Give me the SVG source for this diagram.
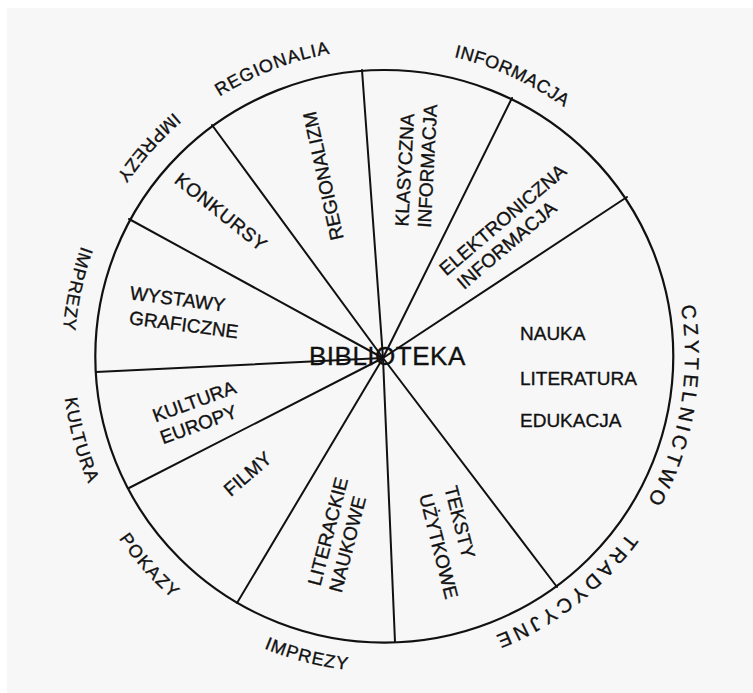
<svg xmlns="http://www.w3.org/2000/svg" width="753" height="693" viewBox="0 0 753 693">
<defs>
<style>
text{font-family:"Liberation Sans",Arial,sans-serif;fill:#111;stroke:#111;stroke-width:0.35px;}
.in{font-size:19px;}
.out{font-size:18px;letter-spacing:1px;}
.sp{font-size:20px;letter-spacing:4px;}
.hub{font-size:26px;letter-spacing:0.5px;}
.spoke{stroke:#111;stroke-width:2;fill:none;stroke-linecap:round;}
.rim{stroke:#111;stroke-width:2.2;fill:none;}
</style>
<path id="cw307" d="M 77,356 A 307 307 0 1 1 691,356 A 307 307 0 1 1 77,356"/>
<path id="cw301" d="M 83,356 A 301 301 0 1 1 685,356 A 301 301 0 1 1 83,356"/>
<path id="ccw322" d="M 384,34 A 322 322 0 1 0 384,678 A 322 322 0 1 0 384,34"/>
<path id="ccw316" d="M 384,40 A 316 316 0 1 0 384,672 A 316 316 0 1 0 384,40"/>
</defs>
<rect width="753" height="693" fill="#ffffff"/>
<rect x="7" y="8" width="746" height="685" fill="#f7f7f7"/>
<ellipse class="rim" cx="384.3" cy="356.3" rx="289" ry="286.3"/>
<g id="connectors">
<line class="spoke" x1="383" y1="358" x2="362" y2="70"/>
<line class="spoke" x1="383" y1="358" x2="512" y2="98"/>
<line class="spoke" x1="383" y1="358" x2="627" y2="197"/>
<line class="spoke" x1="383" y1="358" x2="557" y2="587"/>
<line class="spoke" x1="383" y1="358" x2="395" y2="642"/>
<line class="spoke" x1="383" y1="358" x2="237" y2="603"/>
<line class="spoke" x1="383" y1="358" x2="129" y2="488"/>
<line class="spoke" x1="383" y1="358" x2="96" y2="372"/>
<line class="spoke" x1="383" y1="358" x2="129" y2="219"/>
<line class="spoke" x1="383" y1="358" x2="212" y2="125"/>
</g>
<g id="hub"><text class="hub" x="309" y="365">BIBLIOTEKA</text></g>
<g id="regionalizm"><text class="in" transform="translate(343.8 238.5) rotate(-102.4)">REGIONALIZM</text></g>
<g id="klasyczna"><text class="in" transform="translate(408.2 226.7) rotate(-87)">KLASYCZNA</text><text class="in" transform="translate(430.7 228) rotate(-87)">INFORMACJA</text></g>
<g id="elektroniczna"><text class="in" transform="translate(446.3 276.6) rotate(-40.5)">ELEKTRONICZNA</text><text class="in" transform="translate(464.1 290.2) rotate(-40.5)">INFORMACJA</text></g>
<g id="nauka"><text class="in" x="520" y="340">NAUKA</text><text class="in" x="520" y="385">LITERATURA</text><text class="in" x="520" y="427">EDUKACJA</text></g>
<g id="teksty"><text class="in" transform="translate(444.3 487.8) rotate(75.7)">TEKSTY</text><text class="in" transform="translate(419 495.7) rotate(75.7)">UŻYTKOWE</text></g>
<g id="literackie"><text class="in" transform="translate(320.3 586.8) rotate(-75.5)">LITERACKIE</text><text class="in" transform="translate(341.6 593.4) rotate(-75.5)">NAUKOWE</text></g>
<g id="filmy"><text class="in" transform="translate(230.8 497.2) rotate(-41)">FILMY</text></g>
<g id="kultura-europy"><text class="in" transform="translate(155.4 422.6) rotate(-20)">KULTURA</text><text class="in" transform="translate(163.1 444.3) rotate(-20)">EUROPY</text></g>
<g id="wystawy"><text class="in" transform="translate(129.2 299.2) rotate(7.5)">WYSTAWY</text><text class="in" transform="translate(128.5 324) rotate(7.5)">GRAFICZNE</text></g>
<g id="konkursy"><text class="in" style="letter-spacing:0.7px" transform="translate(173.3 182) rotate(38.8)">KONKURSY</text></g>
<g id="out-regionalia"><text class="out"><textPath href="#cw307" startOffset="368.6" text-anchor="middle">REGIONALIA</textPath></text></g>
<g id="out-informacja"><text class="out" style="letter-spacing:0.5px"><textPath href="#cw307" startOffset="614" text-anchor="middle">INFORMACJA</textPath></text></g>
<g id="out-czytelnictwo"><text class="sp"><textPath href="#cw301" startOffset="997.6" text-anchor="middle">CZYTELNICTWO</textPath></text><text class="sp"><textPath href="#cw301" startOffset="1220.9" text-anchor="middle">TRADYCYJNE</textPath></text></g>
<g id="out-imprezy-1"><text class="out"><textPath href="#ccw322" startOffset="272.6" text-anchor="middle">IMPREZY</textPath></text></g>
<g id="out-imprezy-2"><text class="out"><textPath href="#ccw322" startOffset="436.7" text-anchor="middle">IMPREZY</textPath></text></g>
<g id="out-kultura"><text class="out"><textPath href="#ccw322" startOffset="592.9" text-anchor="middle">KULTURA</textPath></text></g>
<g id="out-pokazy"><text class="out" style="letter-spacing:1.5px"><textPath href="#ccw322" startOffset="740.7" text-anchor="middle">POKAZY</textPath></text></g>
<g id="out-imprezy-3"><text class="out"><textPath href="#ccw316" startOffset="912.8" text-anchor="middle">IMPREZY</textPath></text></g>
</svg>
